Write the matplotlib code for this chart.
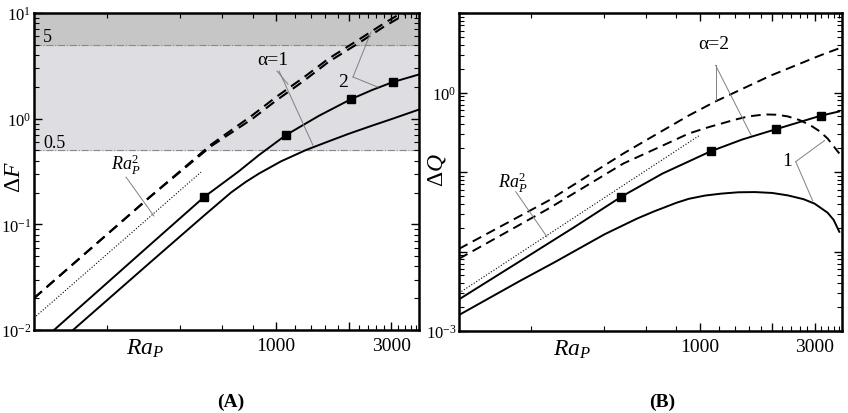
import matplotlib
matplotlib.use("Agg")
import matplotlib.pyplot as plt
from matplotlib.ticker import FixedLocator, LogLocator, NullFormatter

plt.rcParams["font.family"] = ["Liberation Serif", "DejaVu Serif"]
plt.rcParams["mathtext.fontset"] = "custom"
plt.rcParams["mathtext.rm"] = "Liberation Serif"
plt.rcParams["mathtext.it"] = "Liberation Serif:italic"
plt.rcParams["mathtext.bf"] = "Liberation Serif:bold"

# ---- panel A : Delta F ----
ra_a_dash = [100, 200, 300, 540, 800, 1000, 1300, 1650, 2200, 2800, 3200, 3600]
dF_dash1 = [0.020, 0.080, 0.18, 0.57, 1.08, 1.60, 2.45, 3.70, 5.60, 8.00, 9.60, 11.5]
dF_dash2 = [0.020, 0.080, 0.18, 0.55, 1.00, 1.48, 2.27, 3.45, 5.20, 7.45, 8.90, 10.7]
ra_a2 = [121, 300, 504, 600, 700, 850, 1100, 1500, 2042, 2500, 3042, 3900]
dF_a2 = [0.010, 0.0633, 0.181, 0.243, 0.316, 0.452, 0.70, 1.06, 1.53, 1.87, 2.22, 2.62]
ra_a1 = [145, 300, 500, 652, 750, 850, 1050, 1330, 1650, 2000, 2500, 3000, 3900]
dF_a1 = [0.010, 0.043, 0.119, 0.200, 0.252, 0.302, 0.395, 0.505, 0.61, 0.72, 0.86, 0.99, 1.22]
ra_a_mark = [504, 1100, 2042, 3042]
dF_a_mark = [0.181, 0.70, 1.53, 2.22]
ra_a_sq = [100, 490]
dF_a_sq = [0.013, 0.312]
bands_F = [0.5, 5, 10]

# ---- panel B : Delta Q ----
ra_b_d2 = [100, 235, 482, 650, 901, 1164, 1979, 3176, 3801]
dQ_d2 = [0.0108, 0.0435, 0.171, 0.29, 0.514, 0.773, 1.64, 2.94, 3.60]
ra_b_d1 = [100, 235, 482, 659, 901, 1100, 1232, 1400, 1590, 1869, 2100, 2323, 2600,
           2890, 3150, 3397, 3801]
dQ_d1 = [0.0081, 0.0345, 0.128, 0.197, 0.305, 0.37, 0.407, 0.455, 0.500, 0.530, 0.525,
         0.500, 0.45, 0.385, 0.325, 0.264, 0.171]
ra_b2 = [100, 200, 300, 473, 700, 1110, 1500, 2072, 3177, 3800]
dQ_b2 = [0.0025, 0.0093, 0.0201, 0.049, 0.0955, 0.182, 0.256, 0.345, 0.51, 0.578]
ra_b1 = [100, 180, 251, 403, 550, 647, 800, 901, 1050, 1232, 1450, 1700, 2000, 2323,
         2700, 3000, 3397, 3600, 3801]
dQ_b1 = [0.00159, 0.0043, 0.0074, 0.0165, 0.026, 0.032, 0.041, 0.046, 0.0505, 0.0535,
         0.0556, 0.0559, 0.0545, 0.0508, 0.0455, 0.0400, 0.0308, 0.025, 0.0177]
ra_b_mark = [473, 1110, 2072, 3177]
dQ_b_mark = [0.049, 0.182, 0.345, 0.51]
ra_b_sq = [100, 1000]
dQ_b_sq = [0.003, 0.29]

minor_x = [r for r in range(200, 4000, 200) if r not in (1000, 2000, 3000)]
LEAD = dict(color="#808080", lw=0.7)
DASH = (5, 3)


def style(ax, ylim):
    ax.set_xscale("log")
    ax.set_yscale("log")
    ax.set_xlim(100, 3900)
    ax.set_ylim(*ylim)
    ax.xaxis.set_major_locator(FixedLocator([1000, 2000, 3000]))
    ax.set_xticklabels(["1000", "", "3000"])
    ax.xaxis.set_minor_locator(FixedLocator(minor_x))
    ax.xaxis.set_minor_formatter(NullFormatter())
    ax.yaxis.set_minor_locator(LogLocator(base=10, subs=range(2, 10)))
    ax.yaxis.set_minor_formatter(NullFormatter())
    ax.tick_params(which="both", direction="in", top=True, right=True)
    ax.tick_params(axis="x", which="major", labelsize=14, pad=5)
    ax.tick_params(axis="y", which="major", labelsize=12, pad=2)
    ax.tick_params(which="major", length=6, width=1.0)
    ax.tick_params(which="minor", length=3.5, width=0.8)
    for s in ax.spines.values():
        s.set_linewidth(1.8)


fig = plt.figure(figsize=(8.48, 4.14), dpi=100)

# ── Panel A ──
axA = fig.add_axes([34 / 848, 1 - 331 / 414, 385 / 848, 317 / 414])
style(axA, (1e-2, 1e1))
axA.axhspan(bands_F[0], bands_F[1], color="#dedee2", zorder=0)
axA.axhspan(bands_F[1], bands_F[2], color="#c6c6c6", zorder=0)
for b in bands_F[:2]:
    axA.axhline(b, color="#8a8a8a", lw=0.8, ls="-.", zorder=1)
axA.plot(ra_a_dash, dF_dash1, color="k", lw=1.5, ls=(0, DASH))
axA.plot(ra_a_dash, dF_dash2, color="k", lw=1.5, ls=(0, DASH))
axA.plot(ra_a2, dF_a2, color="k", lw=1.4)
axA.plot(ra_a1, dF_a1, color="k", lw=1.4)
axA.plot(ra_a_mark, dF_a_mark, ls="none", marker="s", ms=6, color="k")
axA.plot(ra_a_sq, dF_a_sq, color="k", lw=0.8, ls=":")
axA.set_yticks([1e-2, 1e-1, 1, 10], [r"$10^{-2}$", r"$10^{-1}$", r"$10^{0}$", r"$10^{1}$"])
axA.text(109, 6.0, "5", fontsize=13, va="center", ha="left")
axA.text(109, 0.6, "0.5", fontsize=13, va="center", ha="left")
axA.text(972, 3.67, "α=1", fontsize=14, ha="center", va="center")
axA.plot([1010, 1121], [2.82, 2.12], **LEAD)
axA.plot([1030, 1422], [2.82, 0.56], **LEAD)
axA.text(1891, 2.27, "2", fontsize=14, ha="center", va="center")
axA.plot([2081, 2470], [2.48, 6.6], **LEAD)
axA.plot([2081, 2636], [2.48, 1.99], **LEAD)
axA.text(240, 0.372, r"$Ra_P^2$", fontsize=13, ha="center", va="center")
axA.plot([240, 313], [0.28, 0.12], **LEAD)
axA.text(0.288, -0.055, r"$Ra_P$", transform=axA.transAxes, fontsize=17,
         ha="center", va="center")
axA.text(-0.05, 0.486, r"$\Delta F$", transform=axA.transAxes, fontsize=17,
         ha="center", va="center", rotation=90)

# ── Panel B ──
axB = fig.add_axes([459 / 848, 1 - 332 / 414, 383 / 848, 318 / 414])
style(axB, (1e-3, 1e1))
axB.plot(ra_b_d2, dQ_d2, color="k", lw=1.4, ls=(0, DASH))
axB.plot(ra_b_d1, dQ_d1, color="k", lw=1.4, ls=(0, DASH))
axB.plot(ra_b2, dQ_b2, color="k", lw=1.4)
axB.plot(ra_b1, dQ_b1, color="k", lw=1.4)
axB.plot(ra_b_mark, dQ_b_mark, ls="none", marker="s", ms=6, color="k")
axB.plot(ra_b_sq, dQ_b_sq, color="k", lw=0.8, ls=":")
axB.set_yticks([1e-3, 1e-2, 1e-1, 1, 10], [r"$10^{-3}$", "", "", r"$10^{0}$", ""])
axB.text(1142, 4.16, "α=2", fontsize=14, ha="center", va="center")
axB.plot([1164, 1164], [2.2, 0.794], **LEAD)
axB.plot([1164, 1637], [2.2, 0.288], **LEAD)
axB.text(2300, 0.139, "1", fontsize=14, ha="center", va="center")
axB.plot([2505, 3300], [0.135, 0.249], **LEAD)
axB.plot([2505, 2945], [0.135, 0.0436], **LEAD)
axB.text(168, 0.0757, r"$Ra_P^2$", fontsize=13, ha="center", va="center")
axB.plot([172, 232], [0.0566, 0.0153], **LEAD)
axB.text(0.295, -0.055, r"$Ra_P$", transform=axB.transAxes, fontsize=17,
         ha="center", va="center")
axB.text(-0.057, 0.51, r"$\Delta Q$", transform=axB.transAxes, fontsize=17,
         ha="center", va="center", rotation=90)

fig.text(231 / 848, 1 - 402 / 414, "(A)", fontsize=14, fontweight="bold",
         ha="center", va="center")
fig.text(662 / 848, 1 - 402 / 414, "(B)", fontsize=14, fontweight="bold",
         ha="center", va="center")

fig.savefig("out.png", dpi=100)
